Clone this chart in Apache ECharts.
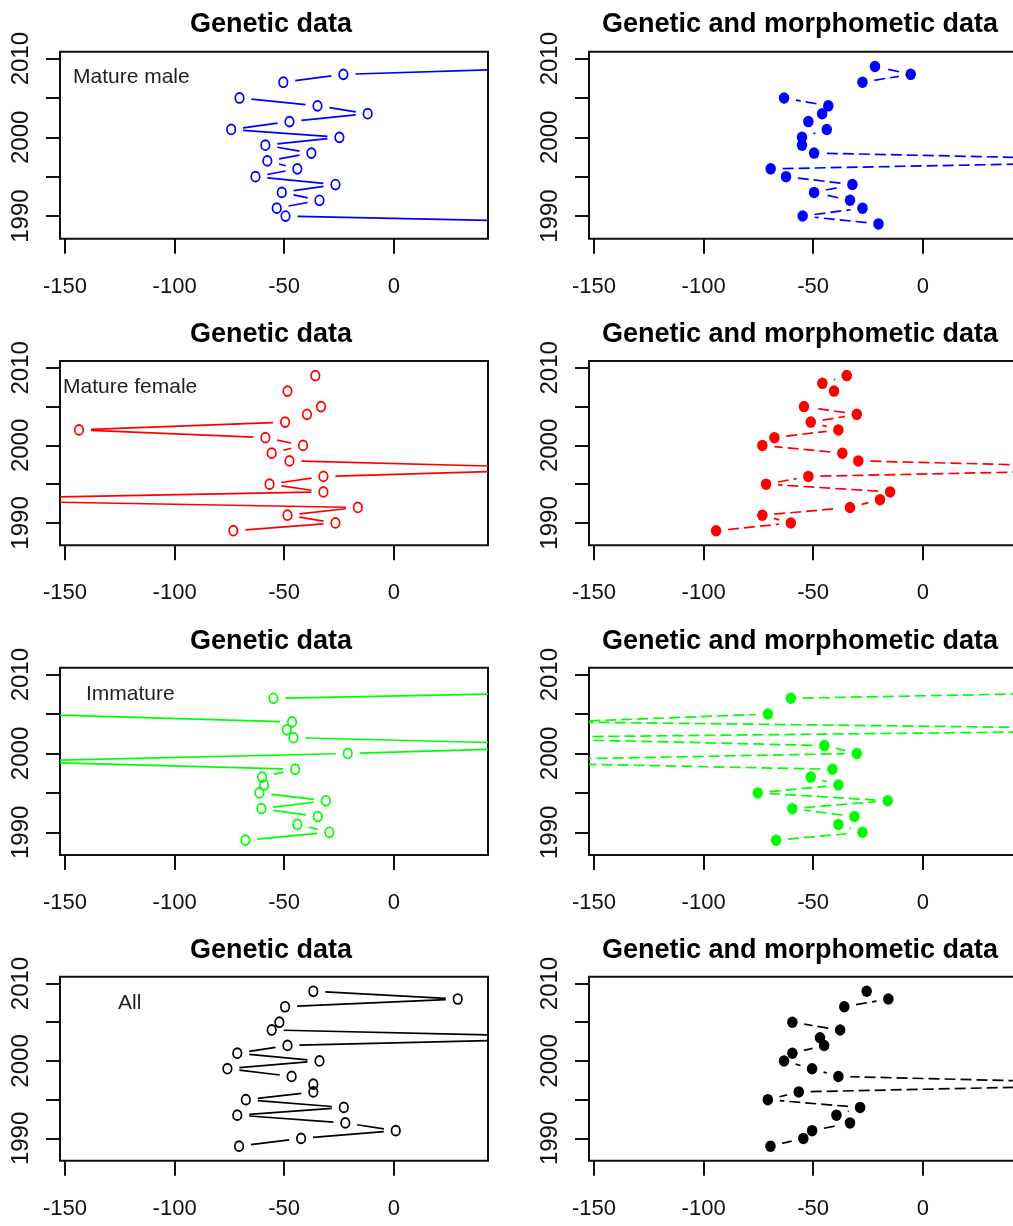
<!DOCTYPE html>
<html>
<head>
<meta charset="utf-8">
<script src="https://cdn.jsdelivr.net/npm/echarts@6/dist/echarts.min.js"></script>
<style>
html,body{margin:0;padding:0;background:#fff;}
#chart{width:1013px;height:1226px;}
</style>
</head>
<body>
<div id="chart"></div>
<script>
// ---------- data ----------
const years = [1989,1990,1991,1992,1993,1994,1995,1996,1997,1998,1999,2000,2001,2002,2003,2004,2005,2006,2007,2008,2009];

const maleGenetic      = [115,-49.4,-53.4,-33.9,-51.1,-26.6,-63.1,-44.0,-57.7,-37.6,-58.6,-24.8,-74.2,-47.6,-11.9,-34.8,-70.4,null,-50.4,-23.0,95];
const maleGenMorph     = [-20.2,-54.8,-27.5,-33.2,-49.6,-32.1,-62.4,-69.4,120,-49.6,-55.1,-55.1,-43.8,-52.2,-45.9,-43.1,-63.3,null,-27.5,-5.5,-21.8];
const femaleGenetic    = [-73.2,-26.6,-48.5,-16.4,-220,-32.1,-56.7,-32.1,90,-47.6,-55.7,-41.4,-58.6,-143.6,-49.6,-39.6,-33.2,null,-48.5,null,-35.8];
const femaleGenMorph   = [-94.3,-60.2,-73.2,-33.2,-19.5,-14.9,-71.5,-52.2,118,-29.4,-36.7,-73.2,-67.7,-38.5,-51.1,-30.1,-54.2,null,-40.5,-45.8,-34.7];
const immatureGenetic  = [-67.7,-29.4,-44.0,-34.7,-60.4,-31.0,-61.3,-59.2,-60.1,-45.0,-176,-21.0,100,-45.8,-48.8,-46.4,-170,null,-54.9,128,null];
const immatureGenMorph = [-66.9,-27.5,-38.5,-31.2,-59.5,-16.0,-75.3,-38.5,-51.1,-41.2,-220,-30.1,-44.9,-200,140,-165,-70.7,null,-60.2,130,null];
const allGenetic       = [-70.6,-42.3,0.9,-22.1,-71.4,-22.8,-67.5,-36.7,-36.7,-46.6,-75.9,-33.9,-71.4,-48.5,98,-55.7,-52.2,null,-49.6,29.2,-36.7];
const allGenMorph      = [-69.5,-54.5,-50.5,-33.2,-39.4,-28.6,-70.7,-56.6,108,-38.5,-50.5,-63.3,-59.5,-45.0,-46.9,-37.7,-59.5,null,-35.8,-15.7,-25.6];

const xTicks = [-150,-100,-50,0];
const yTicks = [1990,1995,2000,2005,2010];
const yLabels = [1990,2000,2010];
const panelTitles = ['Genetic data','Genetic and morphometic data'];
const groupLabels = ['Mature male','Mature female','Immature','All'];
const groupColors = ['#0000FF','#FF0000','#00FF00','#000000'];
const panelValues = [
  [maleGenetic, maleGenMorph],
  [femaleGenetic, femaleGenMorph],
  [immatureGenetic, immatureGenMorph],
  [allGenetic, allGenMorph]
];

// ---------- layout ----------
const X_MIN = -152.3, X_MAX = 43, Y_MIN = 1987.12, Y_MAX = 2010.88;
const rows = [{top:51.7,h:187},{top:361,h:184.3},{top:667.7,h:187.3},{top:976.7,h:184}];
const cols = [{left:60,w:428},{left:589,w:428}];
const titleY = [25,334.3,641.6,950.3];
const titleX = [271,800];
const labelPos = [[73,77.7],[63,387],[86,693.8],[118,1002.8]];
const FONT = '"Liberation Sans", Arial, sans-serif';
const GAP = 12;

function segments(vals){
  const s = [];
  for (let i = 0; i < years.length - 1; i++) {
    if (vals[i] != null && vals[i+1] != null) s.push([vals[i], years[i], vals[i+1], years[i+1]]);
  }
  return s;
}
function points(vals){
  const p = [];
  years.forEach((y,i) => { if (vals[i] != null) p.push([vals[i], y]); });
  return p;
}

const grid = [], xAxis = [], yAxis = [], series = [], graphic = [];
let idx = 0;
for (let r = 0; r < 4; r++) {
  for (let c = 0; c < 2; c++) {
    const color = groupColors[r];
    const dashed = c === 1;
    grid.push({left: cols[c].left, top: rows[r].top, width: cols[c].w, height: rows[r].h,
      show: true, borderColor: '#111', borderWidth: 2, backgroundColor: 'transparent',
      containLabel: false, outerBoundsMode: 'none'});
    xAxis.push({gridIndex: idx, type: 'value', min: X_MIN, max: X_MAX, position: 'bottom',
      axisLine: {show: false, onZero: false}, splitLine: {show: false},
      axisTick: {show: true, customValues: xTicks, length: 15, lineStyle: {color: '#111', width: 2}},
      axisLabel: {customValues: xTicks, formatter: v => String(v), fontSize: 22, fontFamily: FONT, color: '#111', margin: 37}});
    yAxis.push({gridIndex: idx, type: 'value', min: Y_MIN, max: Y_MAX, position: 'left',
      axisLine: {show: false, onZero: false}, splitLine: {show: false},
      axisTick: {show: true, customValues: yTicks, length: 14, lineStyle: {color: '#111', width: 2}},
      axisLabel: {customValues: yLabels, formatter: v => String(v), rotate: 90, fontSize: 24, fontFamily: FONT, color: '#111', margin: 27}});
    const vals = panelValues[r][c];
    series.push({
      type: 'custom', xAxisIndex: idx, yAxisIndex: idx, clip: true, silent: true,
      data: segments(vals),
      encode: {x: [0, 2], y: [1, 3]},
      renderItem: function(params, api){
        const p0 = api.coord([api.value(0), api.value(1)]);
        const p1 = api.coord([api.value(2), api.value(3)]);
        const dx = p1[0] - p0[0], dy = p1[1] - p0[1];
        const d = Math.hypot(dx, dy);
        if (d <= 2 * GAP) return null;
        const ux = dx / d, uy = dy / d;
        return {type: 'line',
          shape: {x1: p0[0] + ux * GAP, y1: p0[1] + uy * GAP, x2: p1[0] - ux * GAP, y2: p1[1] - uy * GAP},
          style: {stroke: color, lineWidth: 1.7, lineDash: dashed ? [11, 5] : null, fill: null}};
      }
    });
    series.push({
      type: 'scatter', xAxisIndex: idx, yAxisIndex: idx, silent: true,
      data: points(vals),
      symbol: 'circle',
      symbolSize: dashed ? [10.5, 11.5] : [8.5, 9.8],
      itemStyle: dashed ? {color: color, opacity: 1} : {color: 'rgba(0,0,0,0)', borderColor: color, borderWidth: 1.8, opacity: 1}
    });
    graphic.push({type: 'text', x: titleX[c], y: titleY[r], silent: true,
      style: {text: panelTitles[c], fontSize: 27, fontWeight: 'bold', fontFamily: FONT, fill: '#000', align: 'center', verticalAlign: 'middle'}});
    idx++;
  }
  graphic.push({type: 'text', x: labelPos[r][0], y: labelPos[r][1], silent: true,
    style: {text: groupLabels[r], fontSize: 21, fontFamily: FONT, fill: '#222', align: 'left', verticalAlign: 'middle'}});
}

const chart = echarts.init(document.getElementById('chart'), null, {renderer: 'canvas'});
chart.setOption({animation: false, backgroundColor: '#fff', grid, xAxis, yAxis, series, graphic});
</script>
</body>
</html>
